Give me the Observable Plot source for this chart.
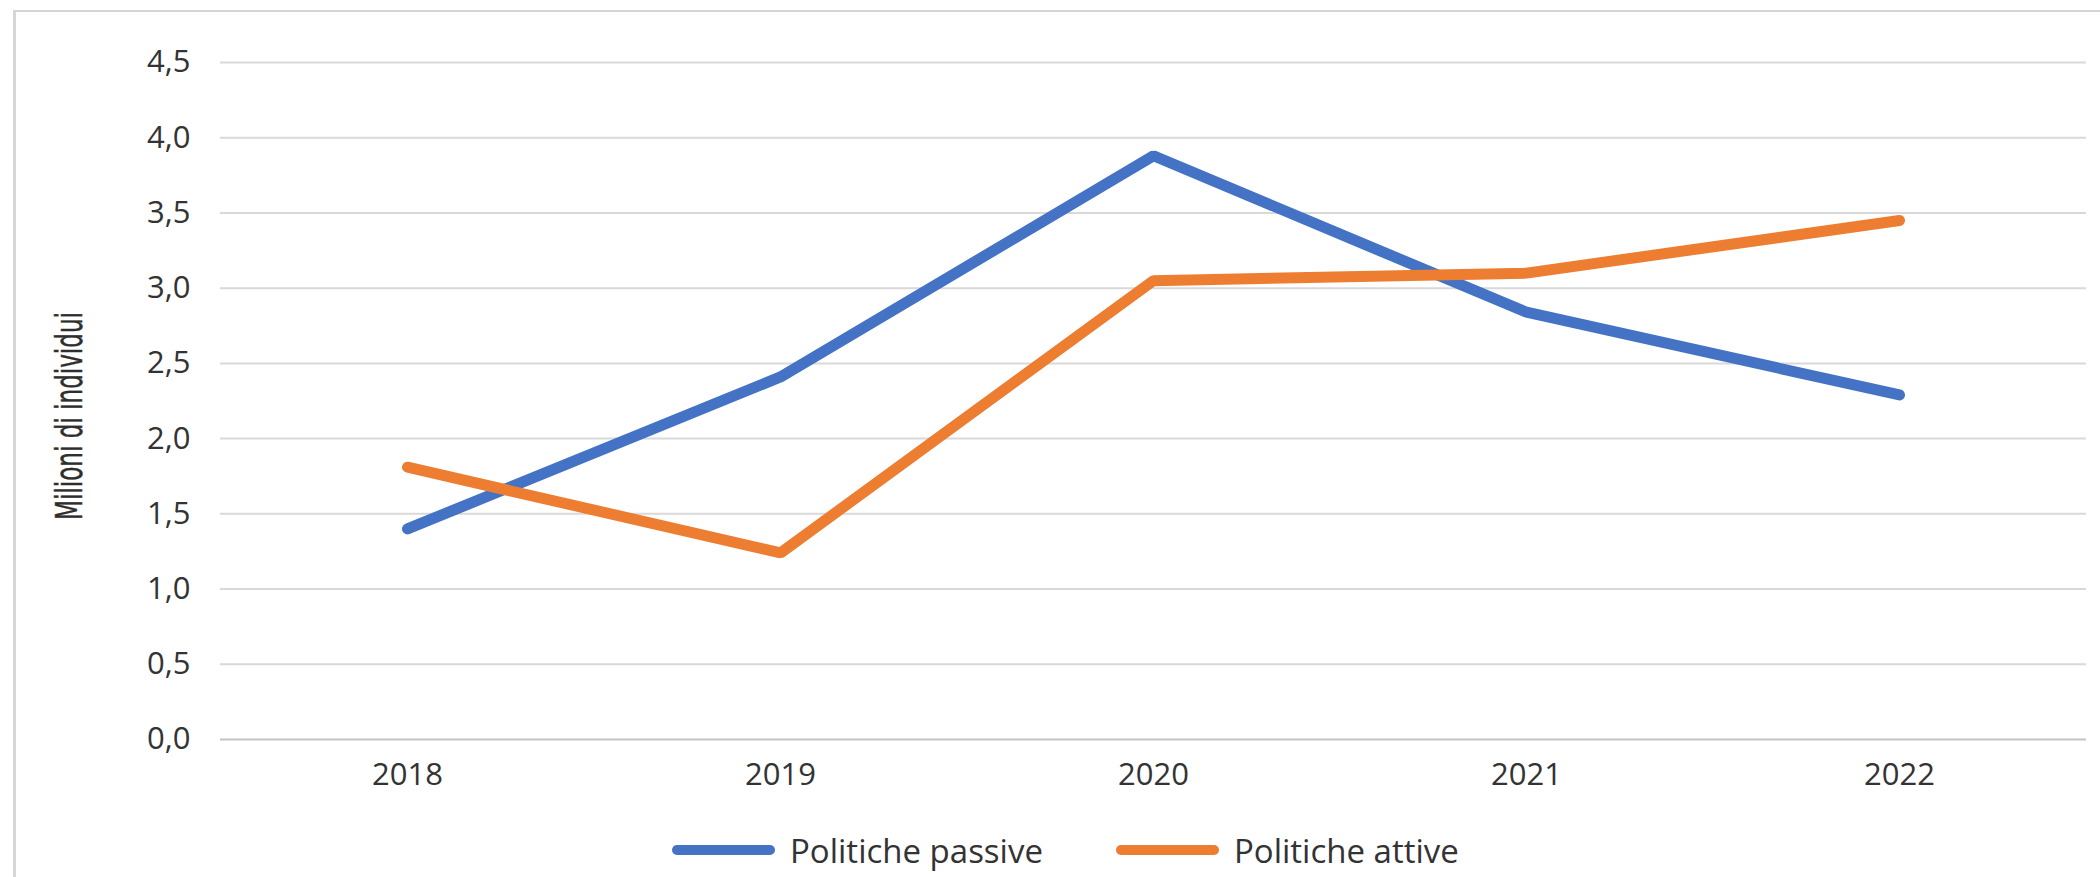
<!DOCTYPE html>
<html>
<head>
<meta charset="utf-8">
<script src="https://cdn.jsdelivr.net/npm/d3@7"></script>
<script src="https://cdn.jsdelivr.net/npm/@observablehq/plot@0.6"></script>
<style>
  html, body { margin: 0; padding: 0; background: #fff; overflow: hidden; width: 2100px; height: 877px; }
  #frame { position: absolute; left: 13px; top: 10px; width: 2300px; height: 1000px; border-left: 3px solid #d6d6d6; border-top: 2px solid #d6d6d6; }
  #chart { position: absolute; left: 0; top: 0; }
  #legend { position: absolute; left: 672px; top: 826px; height: 48px; display: flex; align-items: center; font-family: "Open Sans", sans-serif; font-size: 33px; color: #333; }
  .item { display: flex; align-items: center; }
  .sw { width: 103px; height: 10px; border-radius: 5px; margin-right: 15px; }
</style>
</head>
<body>
<div id="frame"></div>
<div id="chart"></div>
<div id="legend"></div>
<script>
const years = ["2018", "2019", "2020", "2021", "2022"];
const seriesNames = ["Politiche passive", "Politiche attive"];
const passive = [1.40, 2.41, 3.88, 2.84, 2.29];
const active = [1.81, 1.24, 3.05, 3.10, 3.45];
const colors = ["#4472C4", "#ED7D31"];
const yTicks = [0, 0.5, 1, 1.5, 2, 2.5, 3, 3.5, 4, 4.5];
const yTitle = "Milioni di individui";

const data = [];
years.forEach((y, i) => {
  data.push({year: y, value: passive[i], series: seriesNames[0]});
  data.push({year: y, value: active[i], series: seriesNames[1]});
});

const fmt = d => d.toFixed(1).replace(".", ",");

const chart = Plot.plot({
  width: 2100,
  height: 800,
  marginTop: 62,
  marginBottom: 61,
  marginLeft: 220,
  marginRight: 14,
  style: {fontFamily: "'Open Sans', sans-serif", fontSize: "31px", color: "#333", background: "transparent"},
  x: {type: "point", domain: years, padding: 0.5, label: null, tickSize: 0, tickPadding: 23},
  y: {domain: [0, 4.5], ticks: yTicks, tickFormat: fmt, label: null, tickSize: 0, tickPadding: 30},
  color: {domain: seriesNames, range: colors},
  marks: [
    Plot.ruleY(yTicks.filter(d => d > 0), {stroke: "#d9d9d9", strokeWidth: 2}),
    Plot.ruleY([0], {stroke: "#c4c4c4", strokeWidth: 2}),
    Plot.line(data, {x: "year", y: "value", z: "series", stroke: "series", strokeWidth: 11, strokeLinecap: "round", strokeLinejoin: "miter"})
  ]
});

d3.select(chart).append("text")
  .attr("transform", "translate(82,416) rotate(-90)")
  .attr("text-anchor", "middle")
  .attr("font-family", "'Liberation Sans Narrow', 'DejaVu Sans Condensed', sans-serif")
  .attr("font-size", 38)
  .attr("fill", "#2e2e2e")
  .attr("stroke", "#2e2e2e")
  .attr("stroke-width", 0.4)
  .attr("textLength", 208)
  .attr("lengthAdjust", "spacingAndGlyphs")
  .text(yTitle);

document.getElementById("chart").appendChild(chart);

const legend = d3.select("#legend");
seriesNames.forEach((name, i) => {
  const it = legend.append("div").attr("class", "item").style("margin-right", i === 0 ? "73px" : "0");
  it.append("div").attr("class", "sw").style("background", colors[i]);
  it.append("span").text(name);
});
</script>
</body>
</html>
